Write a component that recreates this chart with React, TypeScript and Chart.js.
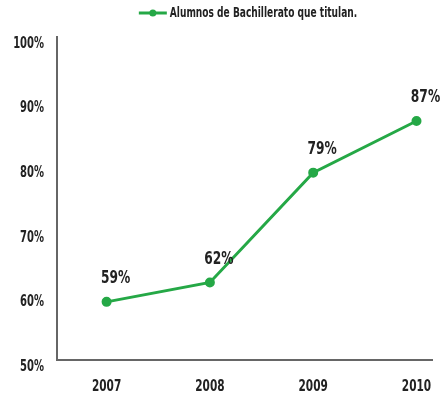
import React, { useEffect, useRef } from "react";
import { Chart, registerables } from "chart.js";

Chart.register(...registerables);

const years = [2007, 2008, 2009, 2010];
const values = [59, 62, 79, 87];
const yTicks = [50, 60, 70, 80, 90, 100];
const seriesLabel = "Alumnos de Bachillerato que titulan.";

const FONT = "'DejaVu Sans Condensed', 'DejaVu Sans', sans-serif";
const GREEN = "#25a846";
const TEXT = "#222222";

function drawText(ctx: any, text: string, x: number, y: number, align: string, size: number, sx: number) {
  ctx.save();
  ctx.font = `bold ${size}px ${FONT}`;
  ctx.fillStyle = TEXT;
  ctx.textBaseline = "middle";
  ctx.textAlign = align;
  ctx.translate(x, y);
  ctx.scale(sx, 1);
  ctx.fillText(text, 0, 0);
  ctx.restore();
}

const textPlugin = {
  id: "texts",
  afterDraw(chart: any) {
    const ctx = chart.ctx;
    const xs = chart.scales.x;
    const ys = chart.scales.y;
    const area = chart.chartArea;
    yTicks.forEach((v) => {
      drawText(ctx, v + "%", 44, ys.getPixelForValue(v) + 7, "right", 15, 0.74);
    });
    years.forEach((v) => {
      drawText(ctx, String(v), xs.getPixelForValue(v), area.bottom + 27, "center", 15, 0.78);
    });
    const meta = chart.getDatasetMeta(0);
    meta.data.forEach((pt: any, i: number) => {
      drawText(ctx, values[i] + "%", pt.x + 9, pt.y - 23, "center", 17, 0.8);
    });
    // legend
    const lsx = 0.72;
    ctx.save();
    ctx.font = `bold 14px ${FONT}`;
    const tw = ctx.measureText(seriesLabel).width * lsx;
    ctx.restore();
    const lineW = 28;
    const total = lineW + 3 + tw;
    const x0 = 248 - total / 2;
    const y = 13;
    ctx.save();
    ctx.strokeStyle = GREEN;
    ctx.lineWidth = 3;
    ctx.beginPath();
    ctx.moveTo(x0, y);
    ctx.lineTo(x0 + lineW, y);
    ctx.stroke();
    ctx.fillStyle = GREEN;
    ctx.beginPath();
    ctx.arc(x0 + lineW / 2, y, 3.5, 0, Math.PI * 2);
    ctx.fill();
    ctx.restore();
    drawText(ctx, seriesLabel, x0 + lineW + 3, y, "left", 14, lsx);
  },
};

export default function App() {
  const ref = useRef<HTMLCanvasElement | null>(null);
  useEffect(() => {
    document.body.style.margin = "0";
    const chart = new Chart(ref.current as HTMLCanvasElement, {
      type: "line",
      data: {
        datasets: [
          {
            label: seriesLabel,
            data: years.map((y, i) => ({ x: y, y: values[i] })),
            borderColor: GREEN,
            backgroundColor: GREEN,
            borderWidth: 3,
            pointRadius: 3.5,
            pointHoverRadius: 3.5,
            tension: 0,
          },
        ],
      },
      options: {
        animation: false,
        responsive: false,
        maintainAspectRatio: false,
        layout: { padding: { top: 37, right: 10, left: 0, bottom: 0 } },
        plugins: { legend: { display: false }, tooltip: { enabled: false } },
        scales: {
          x: {
            type: "linear",
            min: 2006.52,
            max: 2010.15,
            afterBuildTicks: (scale: any) => {
              scale.ticks = years.map((v) => ({ value: v }));
            },
            afterFit: (scale: any) => {
              scale.height = 44;
              scale.paddingLeft = 0;
              scale.paddingRight = 0;
            },
            grid: { display: false, drawTicks: false },
            border: { display: true, color: "#666666", width: 2 },
            ticks: { display: false },
          },
          y: {
            min: 50,
            max: 100,
            afterBuildTicks: (scale: any) => {
              scale.ticks = yTicks.map((v) => ({ value: v }));
            },
            afterFit: (scale: any) => {
              scale.width = 57;
              scale.paddingTop = 0;
              scale.paddingBottom = 0;
            },
            grid: { display: false, drawTicks: false },
            border: { display: true, color: "#666666", width: 2 },
            ticks: { display: false },
          },
        },
      },
      plugins: [textPlugin],
    } as any);
    return () => chart.destroy();
  }, []);
  return (
    <div style={{ width: 442, height: 404, background: "#fff" }}>
      <canvas ref={ref} width={442} height={404} />
    </div>
  );
}
